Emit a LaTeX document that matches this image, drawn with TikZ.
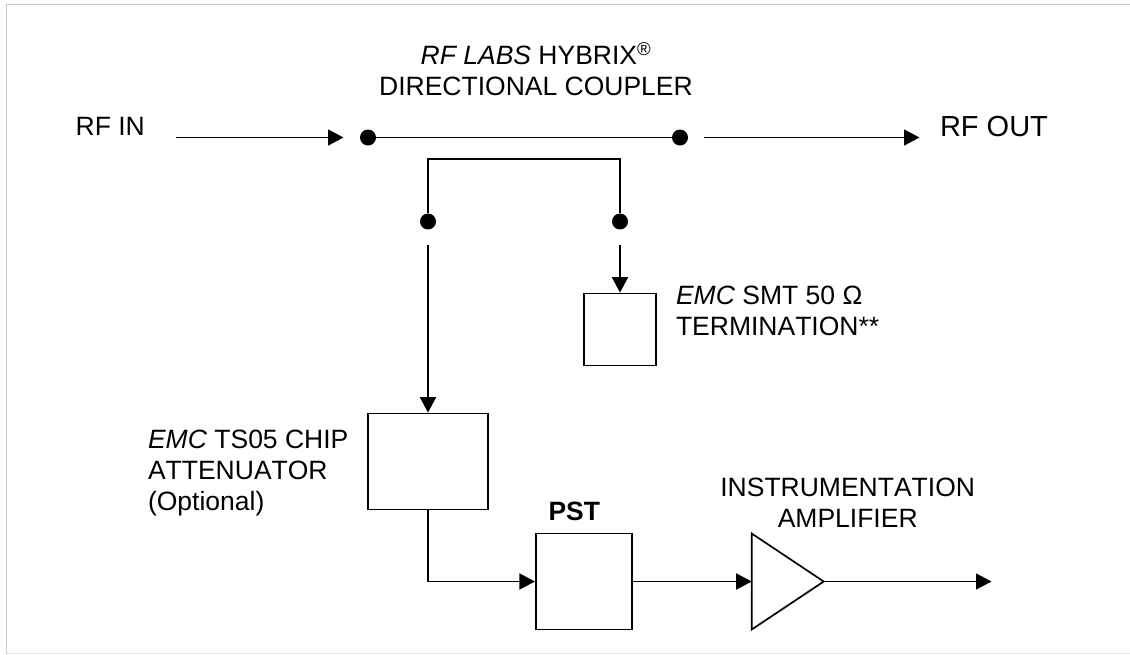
\documentclass[tikz,border=0pt]{standalone}
\usepackage{fontspec}
\setmainfont[Kerning=Off]{Liberation Sans}
\usetikzlibrary{arrows.meta}
\tikzset{
  x=1pt,y=-1pt,
  wire/.style={line width=1.7pt,black,line join=miter},
  arrowed/.style={wire,-{Triangle[length=15.5pt,width=16pt]}},
  dot/.style={circle,fill=black,inner sep=0pt,minimum size=16pt},
  boxnode/.style={rectangle,draw=black,line width=1.7pt,inner sep=0pt,fill=white},
  lbl/.style={inner sep=0pt,outer sep=0pt,text=black,font=\fontsize{26.5}{31}\selectfont},
  lblc/.style={lbl,align=center,anchor=north},
  lbll/.style={lbl,align=left,anchor=north west},
}
\begin{document}
\begin{tikzpicture}
\useasboundingbox (0,0) rectangle (1130,654);
% page frame
\draw[line width=1.5pt,color=black!22] (6.5,654) -- (6.5,4.5) -- (1130,4.5);
\draw[line width=1.5pt,color=black!10] (6.5,653.7) -- (1130,653.7);
% dots
\node[dot] (d1) at (368,137.5) {};
\node[dot] (d2) at (680,137.5) {};
\node[dot] (d3) at (428,221.5) {};
\node[dot] (d4) at (620,221.5) {};
% free ends
\coordinate (inS) at (175.5,137.5);
\coordinate (inE) at (343.5,137.5);
\coordinate (outS) at (703.5,137.5);
\coordinate (outE) at (919.5,137.5);
\coordinate (s3) at (428,245);
\coordinate (s4) at (620,245);
\coordinate (ampEnd) at (991.5,581.5);
% boxes
\node[boxnode,minimum width=72.5pt,minimum height=72pt] (term) at (620,329.5) {};
\node[boxnode,minimum width=120.5pt,minimum height=96pt] (att) at (428,461.5) {};
\node[boxnode,minimum width=96.5pt,minimum height=96pt] (pst) at (584,581.5) {};
% amplifier
\coordinate (ampA) at (751.7,533.5);
\coordinate (ampB) at (751.7,629.5);
\coordinate (ampIn) at (751.7,581.5);
\coordinate (ampOut) at (823.7,581.5);
\draw[wire] (ampA) -- (ampOut) -- (ampB) -- cycle;
% connectors
\draw[arrowed] (inS) -- (inE);
\draw[wire] (d1) -- (d2);
\draw[arrowed] (outS) -- (outE);
\draw[wire] (d3) -- (428,159) -- (620,159) -- (d4);
\draw[arrowed] (s3) -- (att.north);
\draw[arrowed] (s4) -- (term.north);
\draw[arrowed] (att.south) |- (pst.west);
\draw[arrowed] (pst.east) -- (ampIn);
\draw[arrowed] (ampOut) -- (ampEnd);
% labels
\node[lblc] (title) at (536,42.5) {\textit{RF LABS} HYBRIX\textsuperscript{®}\\DIRECTIONAL COUPLER};
\node[lbll] (rfin) at (75.7,117) {RF IN};
\node[lbll,font=\fontsize{29}{31}\selectfont] (rfout) at (940,116.5) {RF OUT};
\node[lbll] (tl) at (676,286) {\textit{EMC} SMT 50 Ω\\TERMINATION**};
\node[lbll] (al) at (148,429.7) {\textit{EMC} TS05 CHIP\\ATTENUATOR\\(Optional)};
\node[lbll] (pl) at (548.5,502) {\textbf{PST}};
\node[lblc] (il) at (847.7,477.5) {INSTRUMENTATION\\AMPLIFIER};
\end{tikzpicture}
\end{document}
